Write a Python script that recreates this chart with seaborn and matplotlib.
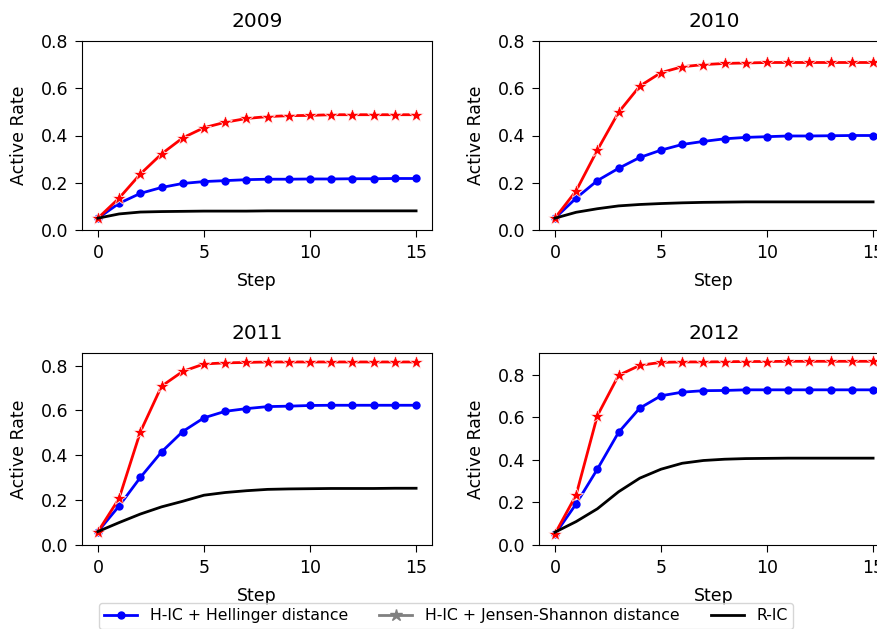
import numpy as np
import pandas as pd
import matplotlib
matplotlib.use('Agg')
import matplotlib.pyplot as plt
from matplotlib.lines import Line2D
import seaborn as sns

steps = list(range(16))
years = ['2009', '2010', '2011', '2012']

hellinger = {
    '2009': [0.05, 0.113, 0.155, 0.18, 0.197, 0.205, 0.209, 0.213, 0.215, 0.215, 0.216, 0.216, 0.217, 0.217, 0.218, 0.218],
    '2010': [0.05, 0.135, 0.209, 0.261, 0.307, 0.338, 0.362, 0.375, 0.386, 0.392, 0.395, 0.398, 0.398, 0.399, 0.4, 0.4],
    '2011': [0.06, 0.174, 0.301, 0.415, 0.506, 0.567, 0.596, 0.608, 0.617, 0.619, 0.622, 0.623, 0.623, 0.623, 0.623, 0.623],
    '2012': [0.05, 0.193, 0.356, 0.529, 0.643, 0.701, 0.718, 0.725, 0.726, 0.729, 0.729, 0.729, 0.729, 0.729, 0.729, 0.729],
}
jensen = {
    '2009': [0.05, 0.135, 0.237, 0.322, 0.39, 0.433, 0.456, 0.472, 0.48, 0.484, 0.485, 0.488, 0.488, 0.488, 0.488, 0.488],
    '2010': [0.05, 0.166, 0.338, 0.498, 0.609, 0.666, 0.691, 0.70, 0.705, 0.707, 0.709, 0.709, 0.709, 0.709, 0.709, 0.709],
    '2011': [0.059, 0.208, 0.504, 0.708, 0.774, 0.807, 0.812, 0.814, 0.816, 0.816, 0.816, 0.816, 0.816, 0.816, 0.816, 0.816],
    '2012': [0.052, 0.235, 0.607, 0.797, 0.844, 0.858, 0.86, 0.86, 0.861, 0.862, 0.862, 0.863, 0.863, 0.863, 0.863, 0.863],
}
ric = {
    '2009': [0.05, 0.068, 0.076, 0.078, 0.079, 0.08, 0.08, 0.08, 0.081, 0.081, 0.081, 0.081, 0.081, 0.081, 0.081, 0.081],
    '2010': [0.05, 0.075, 0.09, 0.102, 0.108, 0.112, 0.115, 0.117, 0.118, 0.119, 0.119, 0.119, 0.119, 0.119, 0.119, 0.119],
    '2011': [0.06, 0.1, 0.138, 0.17, 0.195, 0.222, 0.234, 0.242, 0.248, 0.25, 0.251, 0.252, 0.252, 0.252, 0.253, 0.253],
    '2012': [0.06, 0.11, 0.17, 0.25, 0.314, 0.356, 0.384, 0.397, 0.403, 0.406, 0.407, 0.408, 0.408, 0.408, 0.408, 0.408],
}
ymax = {'2009': 0.8, '2010': 0.8, '2011': 0.856, '2012': 0.902}

W, H = 878, 629
fig = plt.figure(figsize=(W / 100, H / 100), dpi=100)

# axes boxes in pixels: left, top, right, bottom (right column runs past the edge, as in the source)
boxes = {
    '2009': (82, 41, 432, 230),
    '2010': (539, 41, 889, 230),
    '2011': (82, 353, 432, 545),
    '2012': (539, 353, 889, 545),
}

for yr in years:
    l, t, r, b = boxes[yr]
    ax = fig.add_axes([l / W, 1 - b / H, (r - l) / W, (b - t) / H])
    df = pd.DataFrame({'Step': steps, 'hel': hellinger[yr], 'js': jensen[yr], 'ric': ric[yr]})
    sns.lineplot(data=df, x='Step', y='hel', ax=ax, color='blue', marker='o',
                 markersize=6, markeredgewidth=0, linewidth=2)
    sns.lineplot(data=df, x='Step', y='js', ax=ax, color='red', marker='*',
                 markersize=10.5, markeredgewidth=0.5, linewidth=2)
    sns.lineplot(data=df, x='Step', y='ric', ax=ax, color='black', linewidth=2)
    ax.set_ylim(0, ymax[yr])
    ax.set_yticks([0.0, 0.2, 0.4, 0.6, 0.8])
    ax.set_xticks([0, 5, 10, 15])
    ax.set_title(yr, fontsize=14.5, pad=10)
    ax.set_xlabel('Step', fontsize=12.5, labelpad=7)
    ax.set_ylabel('Active Rate', fontsize=12.5, labelpad=9)
    ax.tick_params(labelsize=12.5, length=5, pad=5)

handles = [
    Line2D([], [], color='blue', marker='o', markersize=5, linewidth=2),
    Line2D([], [], color='gray', marker='*', markersize=9, linewidth=2),
    Line2D([], [], color='black', linewidth=2),
]
labels = ['H-IC + Hellinger distance', 'H-IC + Jensen-Shannon distance', 'R-IC']
fig.legend(handles, labels, loc='upper center', ncol=3, fontsize=11.3,
           bbox_to_anchor=(446 / W, 1 - 603 / H), handlelength=2.1,
           columnspacing=2.0, borderpad=0.35, borderaxespad=0)

fig.savefig('out.png', dpi=100)
